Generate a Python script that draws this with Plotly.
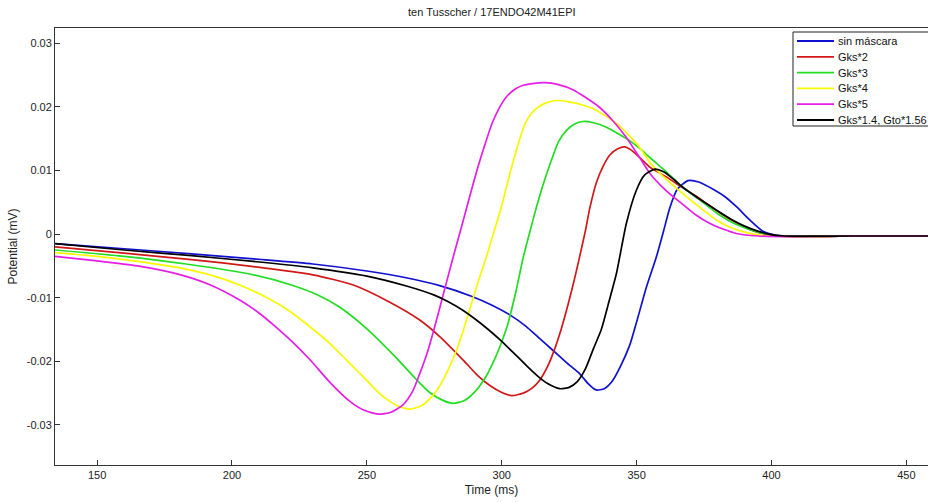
import plotly.graph_objects as go

title_text = "ten Tusscher / 17ENDO42M41EPI"
series_names = ["sin máscara", "Gks*2", "Gks*3", "Gks*4", "Gks*5", "Gks*1.4, Gto*1.56"]
series_colors = ["#1010d0", "#d01818", "#22dd22", "#f8f800", "#e61ee6", "#000000"]

blue_x = [134.4, 160, 185, 208, 230, 250, 265, 277, 289, 296, 303, 309, 314, 319, 324, 329, 332, 335, 338, 341, 344, 347.4, 350, 353.5, 357.3, 360, 362.2, 365, 369, 373, 379, 383, 387, 392, 397, 402, 410, 430, 458]
blue_y = [-0.0015, -0.0023, -0.0031, -0.0039, -0.0047, -0.0058, -0.0069, -0.0081, -0.0098, -0.0111, -0.0127, -0.0145, -0.0164, -0.0183, -0.0202, -0.0220, -0.0235, -0.0245, -0.0243, -0.0231, -0.0208, -0.0175, -0.0138, -0.0085, -0.0036, 0.0005, 0.0040, 0.0070, 0.0084, 0.0082, 0.0069, 0.0058, 0.0043, 0.0022, 0.0004, -0.0002, -0.0004, -0.0003, -0.0003]

red_x = [134.4, 160, 185, 208, 230, 245, 258.5, 269.6, 277, 285.7, 291, 295.6, 300, 303.6, 308, 311, 314, 317, 319.5, 322, 324.5, 327, 329, 331, 332.6, 335, 337.5, 340, 343, 345.5, 348, 351, 355, 361, 367, 373, 380, 386, 392, 400, 410, 430, 458]
red_y = [-0.0020, -0.0030, -0.0040, -0.0051, -0.0064, -0.0080, -0.0107, -0.0135, -0.0161, -0.0198, -0.0222, -0.0238, -0.0249, -0.0254, -0.0250, -0.0243, -0.0230, -0.0208, -0.0182, -0.0150, -0.0112, -0.0070, -0.0033, 0.0005, 0.0040, 0.0080, 0.0106, 0.0124, 0.0134, 0.0137, 0.0132, 0.0121, 0.0105, 0.0090, 0.0073, 0.0057, 0.0036, 0.0020, 0.0007, -0.0002, -0.0004, -0.0003, -0.0003]

green_x = [134.4, 160, 183, 208, 222, 232, 240, 250, 261, 268, 273.3, 278, 282, 286, 290, 294, 297, 299.3, 302, 305, 308, 310.5, 312.9, 315.5, 318.4, 321, 324, 327, 330.1, 334, 338.8, 343, 347.4, 351, 355, 361, 367, 373, 380, 386, 392, 397, 403, 430, 458]
green_y = [-0.0025, -0.0035, -0.0047, -0.0064, -0.0080, -0.0096, -0.0115, -0.0149, -0.0195, -0.0227, -0.0249, -0.0261, -0.0266, -0.0262, -0.0248, -0.0225, -0.0200, -0.0177, -0.0145, -0.0095, -0.0036, 0.0005, 0.0043, 0.0080, 0.0116, 0.0145, 0.0163, 0.0173, 0.0177, 0.0175, 0.0168, 0.0158, 0.0147, 0.0135, 0.0120, 0.0098, 0.0074, 0.0055, 0.0032, 0.0017, 0.0007, 0.0001, -0.0003, -0.0003, -0.0003]

yellow_x = [134.4, 150, 165, 183, 195, 205, 213, 221, 229, 236.3, 242.5, 248.6, 254, 258.5, 262.5, 266.5, 270.5, 274, 277.5, 280.5, 283, 285.5, 288, 291, 294.3, 297, 300, 303, 306, 308.5, 311, 314, 317, 320.2, 325, 330, 334, 338, 342.5, 347, 351, 355, 361, 367, 374, 380, 385, 390, 396, 410, 430, 458]
yellow_y = [-0.0029, -0.0035, -0.0043, -0.0055, -0.0068, -0.0084, -0.0100, -0.0120, -0.0146, -0.0172, -0.0198, -0.0224, -0.0248, -0.0263, -0.0272, -0.0275, -0.0269, -0.0256, -0.0235, -0.0210, -0.0185, -0.0155, -0.0120, -0.0078, -0.0036, 0.0002, 0.0045, 0.0095, 0.0140, 0.0172, 0.0190, 0.0201, 0.0207, 0.0210, 0.0208, 0.0203, 0.0197, 0.0187, 0.0174, 0.0156, 0.0137, 0.0112, 0.0086, 0.0064, 0.0040, 0.0021, 0.0010, 0.0003, -0.0002, -0.0004, -0.0003, -0.0003]

magenta_x = [134.4, 150, 165, 180, 192, 203, 210, 216, 222, 229, 236.3, 243.7, 249, 254.2, 259, 263.5, 267, 270, 272.5, 275, 278, 282, 285, 288, 291, 293.7, 296.5, 299.3, 302, 305, 308, 312, 315.9, 321, 326.4, 331, 336.3, 341, 346.2, 351, 355, 361, 367, 372, 377, 382, 387, 395, 410, 430, 458]
magenta_y = [-0.0035, -0.0042, -0.0050, -0.0063, -0.0080, -0.0104, -0.0124, -0.0145, -0.0168, -0.0198, -0.0233, -0.0263, -0.0277, -0.0283, -0.0280, -0.0268, -0.0247, -0.0215, -0.0185, -0.0148, -0.0100, -0.0036, 0.0010, 0.0057, 0.0103, 0.0140, 0.0175, 0.0200, 0.0217, 0.0228, 0.0234, 0.0237, 0.0238, 0.0235, 0.0227, 0.0215, 0.0199, 0.0179, 0.0152, 0.0121, 0.0095, 0.0068, 0.0047, 0.0030, 0.0017, 0.0008, 0.0001, -0.0003, -0.0004, -0.0003, -0.0003]

black_x = [134.4, 160, 185, 208, 230, 250, 265, 275, 280, 285.7, 290, 295, 299.3, 304.2, 309, 313, 317, 321.5, 325, 328, 331, 334, 336.9, 339.5, 342.5, 346.2, 349.9, 353, 356.7, 360, 364, 367, 373, 379.5, 386, 392, 399, 405, 430, 458]
black_y = [-0.0015, -0.0025, -0.0034, -0.0043, -0.0053, -0.0066, -0.0082, -0.0096, -0.0106, -0.0120, -0.0133, -0.0150, -0.0166, -0.0186, -0.0206, -0.0222, -0.0235, -0.0243, -0.0241, -0.0232, -0.0212, -0.0180, -0.0150, -0.0110, -0.0062, 0.0017, 0.0069, 0.0093, 0.0102, 0.0098, 0.0085, 0.0074, 0.0056, 0.0038, 0.0021, 0.0009, 0.0000, -0.0003, -0.0003, -0.0003]

x_tickvals = [150, 200, 250, 300, 350, 400, 450]
y_tickvals = [-0.03, -0.02, -0.01, 0, 0.01, 0.02, 0.03]
y_ticktext = ["-0.03", "-0.02", "-0.01", "0", "0.01", "0.02", "0.03"]

xs = [blue_x, red_x, green_x, yellow_x, magenta_x, black_x]
ys = [blue_y, red_y, green_y, yellow_y, magenta_y, black_y]

fig = go.Figure()
for name, color, x, y in zip(series_names, series_colors, xs, ys):
    fig.add_trace(go.Scatter(
        x=x, y=y, mode="lines", name=name, showlegend=False,
        line=dict(color=color, width=1.7, shape="spline", smoothing=0.6),
    ))

font_family = "Liberation Sans, Arial, sans-serif"

# custom compact legend (MATLAB style) in paper coordinates
L, T, W, H = 55, 28, 873, 437  # plot area in pixels


def px2x(p):
    return (p - L) / W


def py2y(p):
    return (T + H - p) / H


shapes = [dict(type="rect", xref="paper", yref="paper",
               x0=px2x(793), x1=px2x(930), y0=py2y(126), y1=py2y(32),
               line=dict(color="#222", width=1), fillcolor="white", layer="above")]
annotations = []
row0, step = 41, 15.8
for i, (name, color) in enumerate(zip(series_names, series_colors)):
    yy = py2y(row0 + i * step)
    shapes.append(dict(type="line", xref="paper", yref="paper",
                       x0=px2x(797), x1=px2x(834), y0=yy, y1=yy,
                       line=dict(color=color, width=1.8), layer="above"))
    annotations.append(dict(xref="paper", yref="paper", x=px2x(836), y=yy,
                            xanchor="left", yanchor="middle", showarrow=False,
                            text=name, font=dict(family=font_family, size=11, color="#111")))

fig.update_layout(
    width=928, height=502,
    margin=dict(l=55, r=0, t=28, b=37),
    paper_bgcolor="white", plot_bgcolor="white",
    title=dict(text=title_text, x=0.53, xanchor="center", y=0.975, yanchor="middle",
               font=dict(family=font_family, size=11, color="#222")),
    font=dict(family=font_family, size=11, color="#222"),
    showlegend=False,
    shapes=shapes,
    annotations=annotations,
)
fig.update_xaxes(
    range=[134.4, 458], tickvals=x_tickvals, ticks="inside", ticklen=5,
    tickcolor="#333", showline=True, linecolor="#333", linewidth=1, mirror=True,
    showgrid=False, zeroline=False,
    title=dict(text="Time (ms)", font=dict(family=font_family, size=12, color="#222"), standoff=5),
    tickfont=dict(family=font_family, size=11, color="#222"),
)
fig.update_yaxes(
    range=[-0.0363, 0.0324], tickvals=y_tickvals, ticktext=y_ticktext, ticks="inside", ticklen=5,
    tickcolor="#333", showline=True, linecolor="#333", linewidth=1, mirror=False,
    showgrid=False, zeroline=False,
    title=dict(text="Potential (mV)", font=dict(family=font_family, size=12, color="#222"), standoff=6),
    tickfont=dict(family=font_family, size=11, color="#222"),
)

fig.write_html("out.html")
